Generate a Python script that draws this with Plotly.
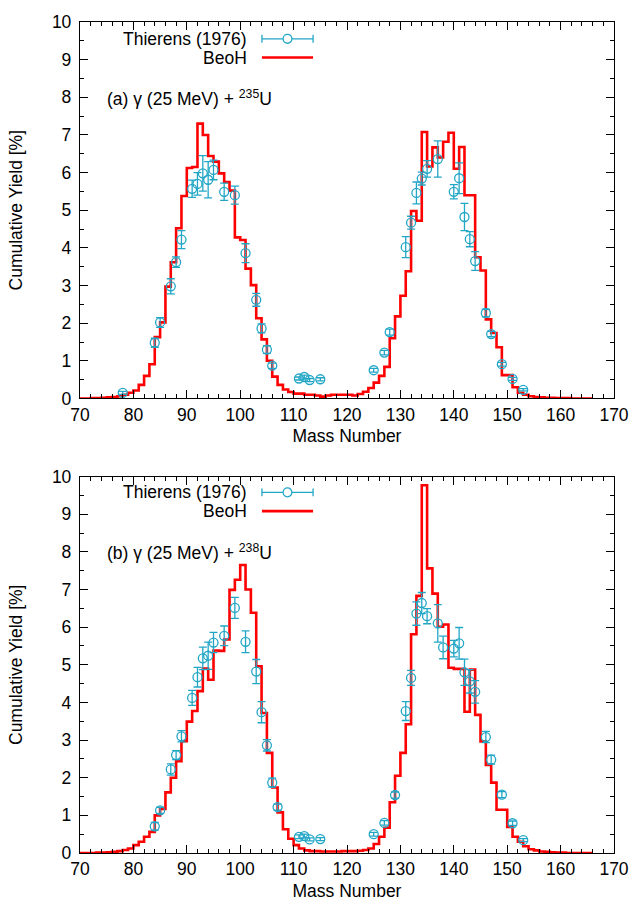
import plotly.graph_objects as go

# ---------------- data ----------------
mass_calc = list(range(70, 166))

beoh_u235 = [0.0, 0.0, 0.01, 0.01, 0.02, 0.03, 0.04, 0.06, 0.10, 0.15,
             0.21, 0.36, 0.60, 0.91, 1.63, 2.02, 2.97, 3.62, 4.52, 5.38,
             6.12, 6.15, 7.30, 7.00, 6.44, 6.29, 5.98, 5.75, 5.52, 4.28,
             4.21, 3.45, 3.01, 2.13, 1.57, 1.00, 0.58, 0.36, 0.24, 0.17,
             0.13, 0.13, 0.10, 0.10, 0.08, 0.05, 0.08, 0.10, 0.10, 0.10,
             0.10, 0.08, 0.12, 0.18, 0.28, 0.42, 0.60, 0.84, 1.60, 2.18,
             2.73, 3.38, 4.98, 4.72, 7.08, 6.16, 6.67, 6.40, 6.82, 7.06,
             6.10, 6.68, 5.40, 5.40, 3.75, 3.40, 2.10, 1.74, 1.36, 0.62,
             0.62, 0.30, 0.15, 0.10, 0.06, 0.04, 0.03, 0.02, 0.02, 0.01,
             0.01, 0.01, 0.0, 0.0, 0.0, 0.0]

beoh_u238 = [0.0, 0.0, 0.0, 0.01, 0.01, 0.02, 0.03, 0.05, 0.08, 0.12,
             0.21, 0.30, 0.43, 0.56, 1.00, 1.17, 1.61, 2.00, 2.44, 2.97,
             3.49, 3.77, 4.30, 4.90, 4.60, 5.38, 5.37, 5.67, 6.99, 7.26,
             7.65, 7.00, 6.38, 4.96, 3.72, 2.66, 1.74, 1.08, 0.63, 0.38,
             0.21, 0.12, 0.07, 0.05, 0.05, 0.04, 0.04, 0.04, 0.04, 0.05,
             0.05, 0.05, 0.06, 0.08, 0.12, 0.24, 0.43, 0.67, 1.35, 2.05,
             2.66, 3.42, 5.81, 6.83, 9.77, 7.56, 6.89, 6.01, 6.07, 4.92,
             4.89, 4.89, 3.75, 4.87, 3.67, 2.96, 2.34, 1.87, 1.15, 1.15,
             0.69, 0.43, 0.30, 0.18, 0.10, 0.07, 0.04, 0.03, 0.02, 0.01,
             0.01, 0.0, 0.0, 0.0, 0.0, 0.0]

exp_mass_u235 = [78, 84, 85, 87, 88, 89, 91, 92, 93, 94, 95, 97, 99, 101, 103,
                 104, 105, 106, 111, 112, 113, 115, 125, 127, 128, 131, 132,
                 133, 134, 135, 137, 140, 141, 142, 143, 144, 146, 147, 149,
                 151, 153]
exp_yield_u235 = [0.15, 1.48, 2.02, 2.98, 3.62, 4.22, 5.57, 5.70, 5.98, 5.81,
                  6.07, 5.49, 5.40, 3.86, 2.62, 1.86, 1.30, 0.87, 0.53, 0.57,
                  0.49, 0.51, 0.75, 1.22, 1.76, 4.02, 4.67, 5.46, 5.84, 6.10,
                  6.36, 5.49, 5.85, 4.82, 4.23, 3.65, 2.27, 1.71, 0.91, 0.52,
                  0.23]
exp_err_u235 = [0.04, 0.12, 0.13, 0.20, 0.14, 0.24, 0.23, 0.30, 0.47, 0.48,
                0.26, 0.23, 0.24, 0.25, 0.17, 0.12, 0.10, 0.07, 0.04, 0.05,
                0.04, 0.04, 0.05, 0.06, 0.08, 0.28, 0.17, 0.29, 0.17, 0.22,
                0.48, 0.19, 0.41, 0.36, 0.20, 0.25, 0.10, 0.07, 0.05, 0.04,
                0.03]

exp_mass_u238 = [84, 85, 87, 88, 89, 91, 92, 93, 94, 95, 97, 99, 101, 103, 104,
                 105, 106, 107, 111, 112, 113, 115, 125, 127, 129, 131, 132,
                 133, 134, 135, 137, 138, 140, 141, 142, 143, 144, 146, 147,
                 149, 151, 153]
exp_yield_u238 = [0.71, 1.13, 2.22, 2.60, 3.10, 4.12, 4.67, 5.17, 5.24, 5.59,
                  5.77, 6.51, 5.61, 4.82, 3.74, 2.86, 1.87, 1.22, 0.43, 0.45,
                  0.36, 0.37, 0.50, 0.80, 1.54, 3.77, 4.65, 6.36, 6.64, 6.29,
                  6.10, 5.46, 5.43, 5.57, 4.80, 4.56, 4.28, 3.08, 2.48, 1.55,
                  0.79, 0.34]
exp_err_u238 = [0.10, 0.08, 0.15, 0.12, 0.15, 0.20, 0.26, 0.30, 0.36, 0.27,
                0.26, 0.28, 0.29, 0.32, 0.28, 0.15, 0.12, 0.08, 0.05, 0.05,
                0.04, 0.04, 0.05, 0.06, 0.08, 0.25, 0.20, 0.31, 0.28, 0.20,
                0.50, 0.30, 0.22, 0.42, 0.35, 0.31, 0.30, 0.15, 0.12, 0.08,
                0.06, 0.04]

x_ticks = [70, 80, 90, 100, 110, 120, 130, 140, 150, 160, 170]
y_ticks = list(range(0, 11))

labels = ["(a) γ (25 MeV) + <sup>235</sup>U", "(b) γ (25 MeV) + <sup>238</sup>U"]
legend_names = ["Thierens (1976)", "BeoH"]

# ---------------- style ----------------
W, H = 641, 909
ML, MR, MT, MB = 80, 18, 12, 56
PW, PH = W - ML - MR, H - MT - MB
TEAL = "#22a6c6"
RED = "#ff0000"
FONT = "Liberation Sans, Arial, Helvetica, sans-serif"
FS = 17.5


def px(xp):
    return (xp - ML) / PW


def py(yp):
    return (H - MB - yp) / PH


top_dom = [1 - 381 / PH, 1.0]
bot_dom = [0.0, 381 / PH]

fig = go.Figure()

panels = [
    ("x", "y", beoh_u235, exp_mass_u235, exp_yield_u235, exp_err_u235),
    ("x2", "y2", beoh_u238, exp_mass_u238, exp_yield_u238, exp_err_u238),
]
for xa, ya, beoh, em, ey, ee in panels:
    xs = mass_calc + [mass_calc[-1] + 1]
    ys = beoh + [beoh[-1]]
    fig.add_trace(go.Scatter(
        x=xs, y=ys, mode="lines", line=dict(color=RED, width=2.6, shape="hv"),
        xaxis=xa, yaxis=ya, showlegend=False, cliponaxis=True))
    fig.add_trace(go.Scatter(
        x=em, y=ey, mode="markers",
        marker=dict(symbol="circle-open", size=9, color=TEAL, line=dict(width=1.3, color=TEAL)),
        error_y=dict(type="data", array=ee, color=TEAL, thickness=1.3, width=4),
        xaxis=xa, yaxis=ya, showlegend=False))

axis_common = dict(
    showline=True, linecolor="black", linewidth=1.3, mirror="ticks",
    ticks="inside", ticklen=8, tickwidth=1, tickcolor="black",
    showgrid=False, zeroline=False,
    tickfont=dict(family=FONT, size=FS, color="black"),
)
xax = dict(axis_common, range=[70, 170], tickvals=x_ticks,
           minor=dict(ticks="inside", ticklen=4, dtick=2, tick0=70, tickcolor="black", showgrid=False),
           title=dict(text="Mass Number", font=dict(family=FONT, size=FS, color="black"), standoff=6))
yax = dict(axis_common, range=[0, 10], tickvals=y_ticks, ticklabelstandoff=4,
           minor=dict(ticks="inside", ticklen=4, dtick=0.5, tick0=0, tickcolor="black", showgrid=False),
           title=dict(text="Cumulative Yield [%]", font=dict(family=FONT, size=FS, color="black"), standoff=24))

fig.update_layout(
    width=W, height=H,
    margin=dict(l=ML, r=MR, t=MT, b=MB),
    paper_bgcolor="white", plot_bgcolor="white",
    showlegend=False,
    xaxis=dict(xax, domain=[0, 1], anchor="y"),
    yaxis=dict(yax, domain=top_dom, anchor="x"),
    xaxis2=dict(xax, domain=[0, 1], anchor="y2"),
    yaxis2=dict(yax, domain=bot_dom, anchor="x2"),
)

# legend (drawn gnuplot style: text then sample) and panel labels
shapes = []
annotations = []
for (leg1_y, leg2_y, lab_y, lab) in [(29, 48, 89, labels[0]), (488, 507, 548, labels[1])]:
    annotations.append(dict(xref="paper", yref="paper", x=px(252), y=py(leg1_y), xanchor="right",
                            yanchor="middle", text=legend_names[0], showarrow=False,
                            font=dict(family=FONT, size=FS, color="black")))
    annotations.append(dict(xref="paper", yref="paper", x=px(252), y=py(leg2_y), xanchor="right",
                            yanchor="middle", text=legend_names[1], showarrow=False,
                            font=dict(family=FONT, size=FS, color="black")))
    annotations.append(dict(xref="paper", yref="paper", x=px(105), y=py(lab_y), xanchor="left",
                            yanchor="middle", text=lab, showarrow=False,
                            font=dict(family=FONT, size=FS, color="black")))
    # Thierens sample: line with caps and circle
    shapes.append(dict(type="line", xref="paper", yref="paper", x0=px(265), x1=px(317),
                       y0=py(leg1_y), y1=py(leg1_y), line=dict(color=TEAL, width=1.3)))
    for cx in (265, 317):
        shapes.append(dict(type="line", xref="paper", yref="paper", x0=px(cx), x1=px(cx),
                           y0=py(leg1_y - 4), y1=py(leg1_y + 4), line=dict(color=TEAL, width=1.3)))
    shapes.append(dict(type="circle", xref="paper", yref="paper", x0=px(291 - 4.5), x1=px(291 + 4.5),
                       y0=py(leg1_y + 4.5), y1=py(leg1_y - 4.5), fillcolor="white",
                       line=dict(color=TEAL, width=1.3)))
    # BeoH sample
    shapes.append(dict(type="line", xref="paper", yref="paper", x0=px(265), x1=px(317),
                       y0=py(leg2_y), y1=py(leg2_y), line=dict(color=RED, width=2.6)))

fig.update_layout(shapes=shapes, annotations=annotations)

fig.write_html("out.html")
